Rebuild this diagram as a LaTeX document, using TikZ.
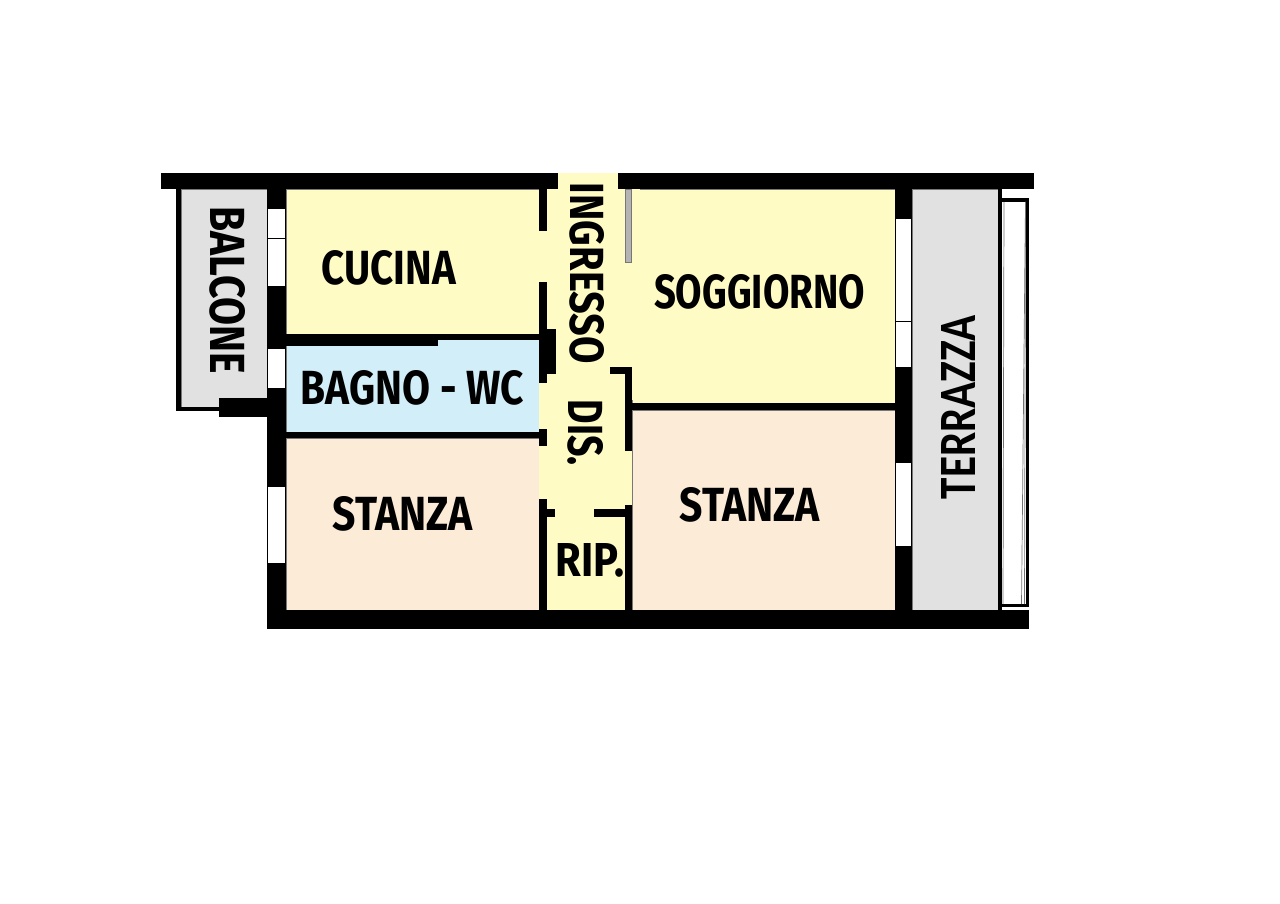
\documentclass[tikz,border=0pt]{standalone}
\usepackage{fontspec}
\setmainfont{Fira Sans}
\newfontfamily\terrfont{Carlito}
\definecolor{ylw}{HTML}{FEFBC5}
\definecolor{blu}{HTML}{D2EEF8}
\definecolor{pch}{HTML}{FCEBD7}
\definecolor{gry}{HTML}{E1E1E1}
\definecolor{edg}{HTML}{777777}
\definecolor{door}{HTML}{B4B4B4}
\tikzset{
  room/.style={draw=edg,line width=0.7pt},
  wall/.style={fill=black,draw=none},
  win/.style={fill=white,draw=black,line width=0.5pt},
  lbl/.style={inner sep=0pt,outer sep=0pt,text=black,font=\bfseries},
  rail/.style={draw=black!55,line width=0.7pt}
}
\newcommand{\fit}[3]{\resizebox{#1pt}{#2pt}{#3}}
\begin{document}
\begin{tikzpicture}[x=1pt,y=-1pt]
\useasboundingbox (0,0) rectangle (1280,904);
% rooms
\path[room,fill=ylw] (286,189) rectangle (539,334);
\path[room,fill=ylw] (632,189) rectangle (895,404);
\path[room,fill=blu] (286,339) rectangle (539,432);
\path[room,fill=pch] (286,438) rectangle (539,610);
\path[room,fill=pch] (632,410) rectangle (895,610);
\path[fill=ylw] (539,189) rectangle (632,610);
\path[fill=ylw] (558,173) rectangle (618,189);
\path[fill=ylw] (620,189) rectangle (640,400);
\path[room,fill=gry] (181,189) rectangle (267,407);
\path[room,fill=gry] (912,189) rectangle (998,610);
% outer walls
\path[wall] (161,173) rectangle (558,189);
\path[wall] (618,173) rectangle (1034,189);
\path[wall] (267,610) rectangle (1029,629);
\path[wall] (267,189) rectangle (286,610);
\path[wall] (895,189) rectangle (912,610);
\path[wall] (998,189) rectangle (1002,610);
% balcony
\path[wall] (176,189) rectangle (181,411);
\path[wall] (176,407) rectangle (219,411);
\path[wall] (219,398) rectangle (267,417);
% inner walls
\path[wall] (286,334) rectangle (539,339.5);
\path[wall] (286,339) rectangle (438,346);
\path[wall] (286,431.5) rectangle (539,438);
\path[wall] (539,189) rectangle (547,231);
\path[wall] (539,282) rectangle (547,383);
\path[wall] (539,329) rectangle (556,374);
\path[wall] (539,429) rectangle (547,446);
\path[wall] (539,499) rectangle (547,610);
\path[wall] (547,509) rectangle (555,517);
\path[wall] (594,509) rectangle (632,517);
\path[wall] (625,505) rectangle (632,610);
\path[wall] (610,367) rectangle (632,374);
\path[wall] (625,367) rectangle (632,451);
\path[wall] (625,403) rectangle (895,410);
% sliding door
\path[fill=door,draw=edg,line width=0.6pt] (625.5,189) rectangle (631.5,262);
% windows
\path[win] (267.5,208) rectangle (285.5,238);
\path[win] (267.5,238) rectangle (285.5,286);
\path[win] (267.5,348) rectangle (285.5,388);
\path[win] (267.5,486) rectangle (285.5,563);
\path[win] (895,218) rectangle (911.5,321);
\path[win] (895,321) rectangle (911.5,367);
\path[win] (895,462) rectangle (911.5,546);
% terrace rail
\path[wall] (1002,198) rectangle (1029,202);
\path[wall] (1026,198) rectangle (1029,607);
\path[wall] (1002,604) rectangle (1029,607);
\coordinate (railA) at (1004,202);
\coordinate (railB) at (1003,604);
\coordinate (railC) at (1025.5,202);
\coordinate (railD) at (1021.5,604);
\coordinate (railE) at (1024.5,604);
\draw[rail] (railA) -- (railB);
\draw[rail] (railC) -- (railD);
\draw[rail] (railC) -- (railE);
% labels
\node[lbl] (cucina) at (389,267.5) {\fit{134}{34}{CUCINA}};
\node[lbl] (soggiorno) at (759.5,292) {\fit{211}{34}{SOGGIORNO}};
\node[lbl] (bagno) at (412.5,388) {\fit{223}{34}{BAGNO - WC}};
\node[lbl] (stanzaA) at (403,514) {\fit{140}{34}{STANZA}};
\node[lbl] (stanzaB) at (750,505) {\fit{140}{34}{STANZA}};
\node[lbl] (rip) at (590,560.5) {\fit{68}{33}{RIP.}};
\node[lbl,rotate=-90] (balcone) at (227.5,290.5) {\fit{167}{35}{BALCONE}};
\node[lbl,rotate=-90] (ingresso) at (587,273.5) {\fit{181}{34}{INGRESSO}};
\node[lbl,rotate=-90] (dis) at (585.5,433) {\fit{66}{35}{DIS.}};
\node[lbl,rotate=90] (terrazza) at (958,407) {\fit{184}{34}{\terrfont\bfseries TERRAZZA}};
\end{tikzpicture}
\end{document}
